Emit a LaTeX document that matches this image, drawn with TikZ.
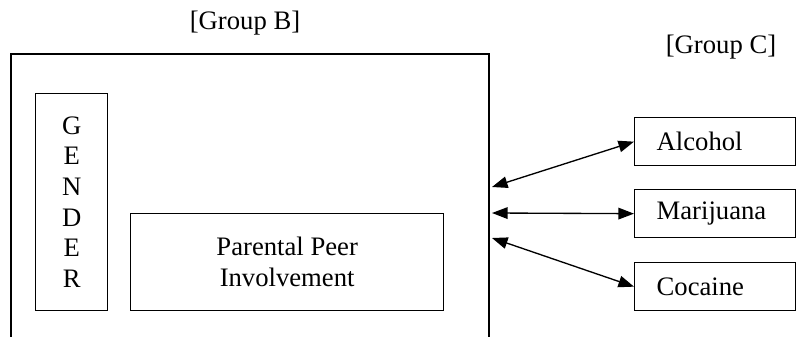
\documentclass[tikz,border=0pt]{standalone}
\usepackage{fontspec}
\setmainfont{Liberation Serif}
\usetikzlibrary{arrows.meta, positioning}

\begin{document}
\begin{tikzpicture}[
    % One unit = one pixel of the original figure, y grows downwards
    x={(0.45pt,0pt)},
    y={(0pt,-0.45pt)},
    >={Triangle[length=7pt, width=5.2pt]},
    font=\fontsize{12}{13.8}\selectfont,
    box/.style={draw, semithick, inner sep=0pt, anchor=north west},
    drug/.style={box, minimum height=21.6pt, text width=52.65pt, inner xsep=9.9pt, align=left}
]
    \useasboundingbox (0,0) rectangle (796,337);

    % --- Group B frame (open at the bottom) ---
    \node[inner sep=0pt, anchor=north west, minimum width=214.65pt, minimum height=127.35pt] (groupBbox) at (11,54) {};
    \draw[semithick] (groupBbox.south west) |- (groupBbox.north east) -- (groupBbox.south east);
    \node (groupB) at (245,23) {[Group B]};

    \node[box, minimum width=32.4pt, minimum height=97.65pt, align=center] (gender) at (35,93) {G\\E\\N\\D\\E\\R};
    \node[box, minimum width=140.85pt, minimum height=43.65pt, align=center] (parental) at (130,213) {Parental Peer\\Involvement};

    % --- Group C ---
    \node (groupC) at (721,47) {[Group C]};
    \node[drug] (alcohol) at (634,117) {Alcohol};
    \node[drug] (marijuana) at (634,189) {Marijuana};
    \node[drug] (cocaine) at (634,262) {Cocaine};

    % --- Links between the groups ---
    \coordinate (fromAlc) at (492,187);
    \coordinate (fromMar) at (492,213);
    \coordinate (fromCoc) at (492,238);
    \draw[<->, semithick] (fromAlc) -- (alcohol.west);
    \draw[<->, semithick] (fromMar) -- (marijuana.west);
    \draw[<->, semithick] (fromCoc) -- (cocaine.west);
\end{tikzpicture}
\end{document}
